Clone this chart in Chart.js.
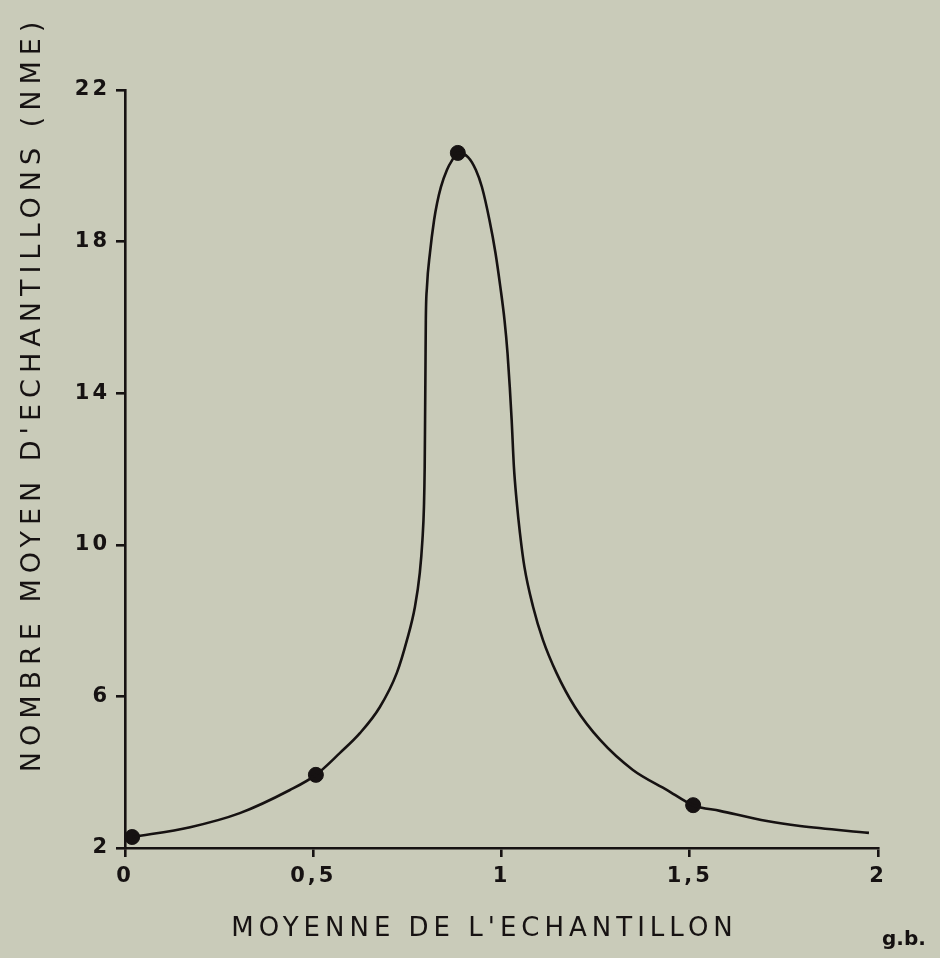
<!DOCTYPE html>
<html lang="fr">
<head>
<meta charset="utf-8">
<title>Nombre moyen d'echantillons</title>
<script src="https://cdn.jsdelivr.net/npm/chart.js@4.4.1/dist/chart.umd.min.js"></script>
<style>
  html, body { margin: 0; padding: 0; background: #c9cbb9; }
  #wrap { position: relative; width: 940px; height: 958px; }
  #signature {
    position: absolute; left: 882px; top: 928px;
    font: bold 20px "DejaVu Sans"; line-height: 20px; color: #141010;
  }
</style>
</head>
<body>
<div id="wrap">
  <canvas id="chart" width="940" height="958"></canvas>
  <div id="signature">g.b.</div>
</div>
<script>
// -------------------- DATA --------------------
// traced curve (moyenne de l'echantillon -> NME)
const curveX = [
  0.019, 0.173, 0.305, 0.438, 0.507, 0.571, 0.624, 0.677, 0.722, 0.749, 0.770, 0.783, 0.790,
  0.794, 0.796, 0.797, 0.798, 0.799, 0.802, 0.810, 0.821, 0.829, 0.839, 0.855, 0.869, 0.884,
  0.911, 0.932, 0.948, 0.968, 0.984, 0.997, 1.008, 1.016, 1.022, 1.027, 1.033, 1.040, 1.049,
  1.061, 1.084, 1.110, 1.146, 1.195, 1.262, 1.349, 1.440, 1.509, 1.580, 1.705, 1.793, 1.976,
];
const curveY = [
  2.29, 2.55, 2.92, 3.53, 3.93, 4.51, 5.03, 5.72, 6.62, 7.49, 8.36, 9.26, 10.13,
  11.00, 12.05, 13.29, 14.61, 15.93, 16.80, 17.70, 18.57, 19.02, 19.44, 19.89, 20.15, 20.34,
  20.23, 19.89, 19.44, 18.57, 17.70, 16.80, 15.93, 15.06, 14.16, 13.29, 12.05, 11.18, 10.31,
  9.41, 8.36, 7.49, 6.62, 5.72, 4.85, 4.06, 3.53, 3.13, 2.98, 2.71, 2.58, 2.40,
];

// observed points
const sampleMean = [0.019, 0.507, 0.884, 1.509];
const meanSamples = [2.29, 3.93, 20.34, 3.13];

const xTickLabels = ["0", "0,5", "1", "1,5", "2"];
const xTitle = "MOYENNE DE L'ECHANTILLON";
const yTitle = "NOMBRE MOYEN D'ECHANTILLONS (NME)";

const ink = "#161212";

// -------------------- SPACED LETTERING --------------------
// the hand lettering is widely spaced; wrap scale title/label drawing
const lettering = {
  x: { title: 5, labels: 3, shift: [-17, 0] },
  y: { title: 6, labels: 3, shift: [0, -75] },
};

function withSpacing(scale, method, spacing, shift) {
  const original = scale[method];
  scale[method] = function (...args) {
    const ctx = this.ctx;
    ctx.save();
    ctx.letterSpacing = spacing + "px";
    if (shift) ctx.translate(shift[0], shift[1]);
    original.apply(this, args);
    ctx.restore();
  };
}

const spacedText = {
  id: "spacedText",
  beforeDraw(chart) {
    Object.entries(lettering).forEach(([id, cfg]) => {
      const scale = chart.scales[id];
      if (!scale || scale._spaced) return;
      withSpacing(scale, "drawTitle", cfg.title, cfg.shift);
      withSpacing(scale, "drawLabels", cfg.labels);
      scale._spaced = true;
    });
  },
};

// -------------------- CHART --------------------
const tickFont = { family: "DejaVu Sans", size: 21, weight: "bold" };

new Chart(document.getElementById("chart"), {
  type: "scatter",
  data: {
    datasets: [
      {
        label: "courbe",
        data: curveX.map((x, i) => ({ x, y: curveY[i] })),
        showLine: true,
        borderColor: ink,
        borderWidth: 2.6,
        cubicInterpolationMode: "monotone",
        pointRadius: 0,
        clip: false,
      },
      {
        label: "observations",
        data: sampleMean.map((x, i) => ({ x, y: meanSamples[i] })),
        showLine: false,
        pointRadius: 7.5,
        pointBackgroundColor: ink,
        pointBorderColor: ink,
        clip: false,
      },
    ],
  },
  options: {
    responsive: false,
    animation: false,
    layout: { padding: { top: 90, right: 62, bottom: 0, left: 0 } },
    plugins: { legend: { display: false }, tooltip: { enabled: false } },
    scales: {
      x: {
        type: "linear",
        min: 0,
        max: 2,
        afterFit: (s) => { s.height = 110; },
        border: { display: true, color: ink, width: 2.6 },
        grid: { drawOnChartArea: false, drawTicks: true, tickLength: 9, color: ink, lineWidth: 2.6 },
        ticks: {
          stepSize: 0.5,
          color: ink,
          font: tickFont,
          padding: 7,
          maxRotation: 0,
          callback: (v, i) => xTickLabels[i],
        },
        title: {
          display: true,
          text: xTitle,
          color: ink,
          font: { family: "DejaVu Sans", size: 26, lineHeight: 1 },
          padding: { top: 0, bottom: 16 },
        },
      },
      y: {
        type: "linear",
        min: 2,
        max: 22,
        afterFit: (s) => { s.width = 125; },
        border: { display: true, color: ink, width: 2.6 },
        grid: { drawOnChartArea: false, drawTicks: true, tickLength: 9, color: ink, lineWidth: 2.6 },
        ticks: { stepSize: 4, color: ink, font: tickFont, padding: 6 },
        title: {
          display: true,
          text: yTitle,
          color: ink,
          font: { family: "DejaVu Sans", size: 27, lineHeight: 1 },
          padding: { top: 19, bottom: 0 },
        },
      },
    },
  },
  plugins: [spacedText],
});
</script>
</body>
</html>
